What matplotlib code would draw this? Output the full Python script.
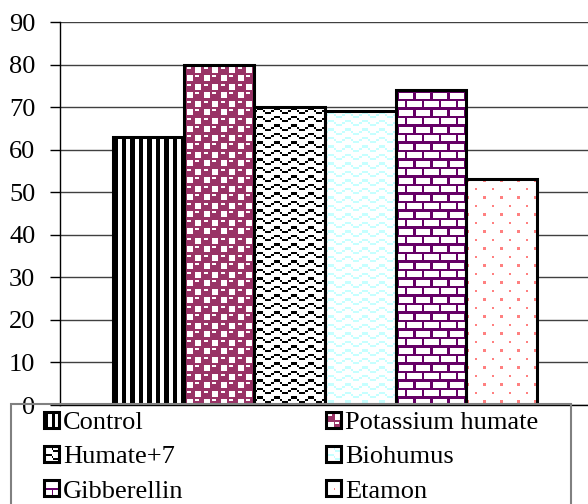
import numpy as np
import matplotlib
matplotlib.use("Agg")
import matplotlib.pyplot as plt
from matplotlib.patches import Rectangle
from matplotlib.legend_handler import HandlerBase

# Data
treatments = ["Control", "Potassium humate", "Humate+7", "Biohumus", "Gibberellin", "Etamon"]
values = [63, 80, 70, 69, 74, 53]
yticks = [0, 10, 20, 30, 40, 50, 60, 70, 80, 90]

plt.rcParams["font.family"] = "serif"
plt.rcParams["font.serif"] = ["Liberation Serif", "DejaVu Serif"]

W_PX, H_PX, DPI = 588, 504, 100
fig = plt.figure(figsize=(W_PX / DPI, H_PX / DPI), dpi=DPI)
ax_left, ax_bottom, ax_w, ax_h = 60 / W_PX, 99 / H_PX, 528 / W_PX, 383 / H_PX
ax = fig.add_axes([ax_left, ax_bottom, ax_w, ax_h])

XMIN, XMAX = -1.25, 6.22
YMAX = 90
FS = 19


# --- 8x8 fill-pattern tiles (1 = foreground) ---
def tile_vertical():
    t = np.zeros((8, 8), int)
    t[:, [0, 1, 4, 5]] = 1
    return t


def tile_wave():
    t = np.zeros((8, 8), int)
    ys = [1, 0, 0, 0, 1, 2, 2, 2]
    for x, y in enumerate(ys):
        t[y, x] = 1
        t[y + 4, x] = 1
    return t


def tile_brick():
    t = np.zeros((8, 8), int)
    t[0, :] = 1
    t[4, :] = 1
    t[1:4, 0] = 1
    t[5:8, 4] = 1
    return t


def tile_dots():
    t = np.zeros((8, 8), int)
    t[0, 0] = 1
    t[4, 4] = 1
    return t


def tile_sphere():
    t = np.ones((8, 8), int)
    for r in range(8):
        for c in range(8):
            if (r // 4 + c // 4) % 2 == 1 and r % 4 in (1, 2, 3) and c % 4 in (1, 2, 3):
                t[r, c] = 0
            if (r // 4 + c // 4) % 2 == 0 and r % 4 == 1 and c % 4 in (1, 2):
                t[r, c] = 0
    return t


def hexrgb(h):
    h = h.lstrip("#")
    return np.array([int(h[i:i + 2], 16) for i in (0, 2, 4)], float) / 255


fills = [
    (tile_vertical(), "#000000", "#ffffff"),
    (tile_sphere(), "#993366", "#ffffff"),
    (tile_wave(), "#000000", "#ffffff"),
    (tile_wave(), "#c6ffff", "#ffffff"),
    (tile_brick(), "#660066", "#ffffff"),
    (tile_dots(), "#ff8080", "#ffffff"),
]

SCALE = 17 / 8  # screen pixels per tile pixel
px_per_x = ax_w * W_PX / (XMAX - XMIN)
px_per_y = ax_h * H_PX / YMAX

bars = ax.bar(range(len(values)), values, width=1.0, facecolor="none",
              edgecolor="black", linewidth=2.2, zorder=4)

for bar, (tile, fg, bg) in zip(bars, fills):
    x0 = bar.get_x()
    w = bar.get_width()
    h = bar.get_height()
    nw = int(round(w * px_per_x))
    nh = int(round(h * px_per_y))
    rows = (np.arange(nh) / SCALE).astype(int) % 8
    cols = (np.arange(nw) / SCALE).astype(int) % 8
    mask = tile[rows[:, None], cols[None, :]]
    img = np.where(mask[..., None] == 1, hexrgb(fg), hexrgb(bg))
    im = ax.imshow(img, extent=(x0, x0 + w, 0, h), origin="upper",
                   interpolation="nearest", aspect="auto", zorder=3)
    im.set_clip_path(bar)

ax.set_xlim(XMIN, XMAX)
ax.set_ylim(0, YMAX)
ax.set_yticks(yticks)
ax.set_xticks([])
ax.tick_params(axis="y", direction="out", length=7, width=1, pad=10.8,
               labelsize=FS, color="black")
ax.yaxis.grid(True, color="#404040", linewidth=1.0)
ax.set_axisbelow(True)
for s in ("top", "right"):
    ax.spines[s].set_visible(False)
for s in ("left", "bottom"):
    ax.spines[s].set_color("black")
    ax.spines[s].set_linewidth(1.0)


class TileHandler(HandlerBase):
    """Legend key drawn as a small bordered swatch of the bar's fill tile."""

    def __init__(self, tile, fg, bg):
        super().__init__()
        self.tile, self.fg, self.bg = tile, fg, bg

    def create_artists(self, legend, orig_handle, xdescent, ydescent,
                       width, height, fontsize, trans):
        x0, y0 = -xdescent, -ydescent
        arts = [Rectangle((x0, y0), width, height, facecolor=self.bg,
                          edgecolor="none", transform=trans)]
        n = self.tile.shape[0]
        cw, ch = width / n, height / n
        for r in range(n):
            for c in range(n):
                if self.tile[r, c]:
                    arts.append(Rectangle((x0 + c * cw, y0 + (n - 1 - r) * ch), cw, ch,
                                          facecolor=self.fg, edgecolor="none",
                                          transform=trans))
        arts.append(Rectangle((x0, y0), width, height, facecolor="none",
                              edgecolor="black", linewidth=2.2, transform=trans))
        return arts


# Legend frame (runs past the bottom edge of the figure)
fig.patches.append(Rectangle((11 / W_PX, -0.05), 560 / W_PX, 0.05 + (H_PX - 404) / H_PX,
                             transform=fig.transFigure, facecolor="none",
                             edgecolor="#808080", linewidth=1.5, zorder=9))

order = [0, 2, 4, 1, 3, 5]
handles = [bars[k] for k in order]
labels = [treatments[k] for k in order]
hmap = {bars[k]: TileHandler(*fills[k]) for k in range(len(values))}
leg = fig.legend(handles, labels, handler_map=hmap,
                 ncol=2, loc="upper left",
                 bbox_to_anchor=(44 / W_PX, 1 - 412 / H_PX),
                 prop={"family": "serif", "size": FS}, frameon=False,
                 handlelength=0.57, handleheight=0.57, handletextpad=0.15,
                 columnspacing=5.4, labelspacing=0.44, borderpad=0,
                 borderaxespad=0)
leg.set_zorder(10)

fig.savefig("out.png", dpi=DPI)
